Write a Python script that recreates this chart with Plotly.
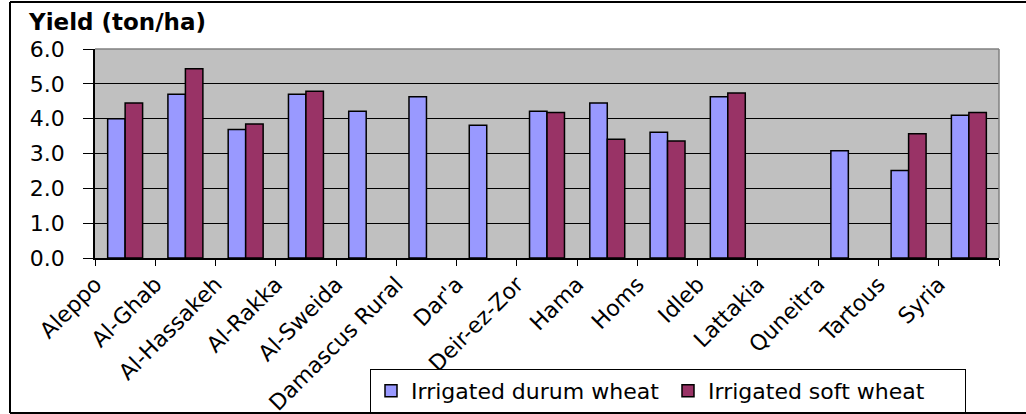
import plotly.graph_objects as go

regions = ["Aleppo", "Al-Ghab", "Al-Hassakeh", "Al-Rakka", "Al-Sweida", "Damascus Rural",
           "Dar'a", "Deir-ez-Zor", "Hama", "Homs", "Idleb", "Lattakia", "Quneitra",
           "Tartous", "Syria"]
durum = [4.0, 4.7, 3.69, 4.7, 4.21, 4.63, 3.81, 4.21, 4.45, 3.61, 4.63, None, 3.08, 2.51, 4.10]
soft = [4.45, 5.43, 3.85, 4.79, None, None, None, 4.18, 3.41, 3.36, 4.74, None, None, 3.57, 4.18]
y_ticks = [0, 1, 2, 3, 4, 5, 6]
y_tick_labels = ["0.0", "1.0", "2.0", "3.0", "4.0", "5.0", "6.0"]

FONT = "DejaVu Sans, Liberation Sans, Arial, sans-serif"

fig = go.Figure()
fig.add_trace(go.Bar(name="Irrigated durum wheat", x=regions, y=durum,
                     marker=dict(color="#9999FF", line=dict(color="black", width=1.5))))
fig.add_trace(go.Bar(name="Irrigated soft wheat", x=regions, y=soft,
                     marker=dict(color="#993366", line=dict(color="black", width=1.5))))

W, H = 1026, 414
L, R, T, B = 95, 999, 49, 258
pw, ph = R - L, B - T


def px(x):
    return (x - L) / pw


def py(y):
    return (B - y) / ph


shapes = [
    # plot area top/right border (grey)
    dict(type="line", xref="paper", yref="paper", x0=0, x1=1, y0=1, y1=1,
         line=dict(color="#808080", width=1.5)),
    dict(type="line", xref="paper", yref="paper", x0=1, x1=1, y0=0, y1=1,
         line=dict(color="#808080", width=1.5)),
    # outer chart frame
    dict(type="line", xref="paper", yref="paper", x0=px(10), x1=px(1040), y0=py(2), y1=py(2),
         line=dict(color="black", width=2)),
    dict(type="line", xref="paper", yref="paper", x0=px(10), x1=px(10), y0=py(2), y1=py(413),
         line=dict(color="black", width=2)),
    dict(type="line", xref="paper", yref="paper", x0=px(10), x1=px(1040), y0=py(413), y1=py(413),
         line=dict(color="black", width=2)),
]

fig.update_layout(
    width=W, height=H,
    margin=dict(l=L, r=W - R, t=T, b=H - B, pad=0, autoexpand=False),
    paper_bgcolor="white",
    plot_bgcolor="#C0C0C0",
    barmode="group",
    bargap=0.42,
    bargroupgap=0,
    font=dict(family=FONT, size=21, color="black"),
    showlegend=True,
    legend=dict(orientation="h", x=px(370), y=py(369), xanchor="left", yanchor="top",
                bordercolor="black", borderwidth=1, bgcolor="white",
                font=dict(family=FONT, size=22), itemwidth=30, tracegroupgap=0,
                entrywidth=252, entrywidthmode="pixels"),
    shapes=shapes,
    annotations=[dict(text="<b>Yield (ton/ha)</b>", xref="paper", yref="paper",
                      x=px(26), y=py(22), xanchor="left", yanchor="middle",
                      showarrow=False, font=dict(family=FONT, size=23, color="black"))],
)

fig.update_xaxes(
    type="category", tickangle=-45, tickson="boundaries", ticks="outside", ticklen=6,
    tickcolor="black", tickwidth=1, showline=True, linecolor="black", linewidth=1.5,
    showgrid=False, ticklabelshift=-30, ticklabelstandoff=3,
    tickfont=dict(family=FONT, size=22), automargin=False,
)
fig.update_yaxes(
    range=[0, 6], tickvals=y_ticks, ticktext=y_tick_labels, ticks="outside", ticklen=10,
    tickcolor="black", showline=True, linecolor="black", linewidth=1.5,
    showgrid=True, gridcolor="black", gridwidth=1, zeroline=False,
    ticklabelstandoff=14, tickfont=dict(family=FONT, size=22), automargin=False,
)

fig.write_html("out.html", config={"displayModeBar": False},
               post_script="document.body.style.margin='0';")
